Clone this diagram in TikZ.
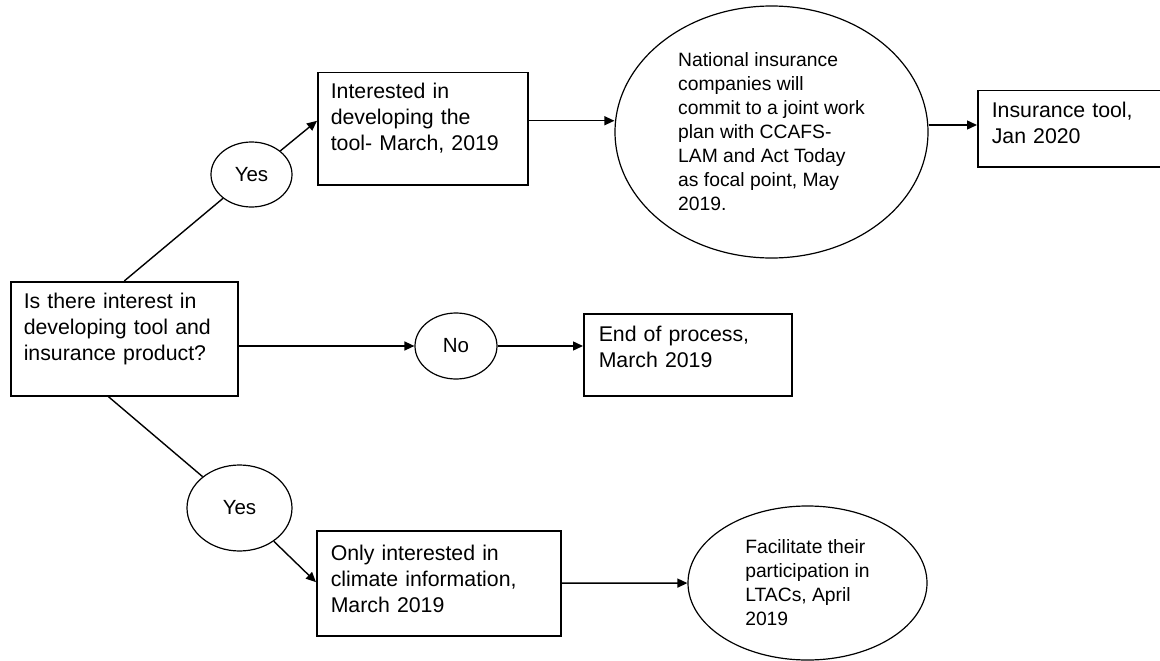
\documentclass[tikz,border=0pt]{standalone}
\usepackage{fontspec}
\setmainfont{Liberation Sans}
\usepackage{tikz}
\usetikzlibrary{arrows.meta,shapes,calc}

\begin{document}
\begin{tikzpicture}[x=1pt,y=-1pt,
box/.style={draw,line width=1.5pt,anchor=north west,align=left,inner ysep=0pt,font=\fontsize{21.3}{26}\selectfont},
oval/.style={draw,ellipse,line width=1.2pt,inner sep=0pt,align=left},
arr/.style={line width=1.4pt,-{Triangle[length=10pt,width=9pt]}},
ln/.style={line width=1.4pt}]
\useasboundingbox(0,0)rectangle(1160,661);
\node[box,inner xsep=13pt,text width=201pt,text height=27pt,text depth=87pt](q)at(10,281){Is there interest in\\developing tool and\\insurance product?};
\node[box,inner xsep=13pt,text width=184pt,text height=26pt,text depth=86pt](int)at(317,72){Interested in\\developing the\\tool- March, 2019};
\node[box,inner xsep=15pt,text width=178pt,text height=28pt,text depth=54pt](endbox)at(583,313){End of process,\\March 2019};
\node[box,inner xsep=14pt,text width=182pt,text height=27pt,text depth=49pt](ins)at(977,90){Insurance tool,\\Jan 2020};
\node[box,inner xsep=14pt,text width=216pt,text height=30pt,text depth=75pt](only)at(316,530){Only interested in\\climate information,\\March 2019};
\node[oval,minimum width=81pt,minimum height=65pt,font=\fontsize{20.5}{24}\selectfont](yes1)at(251.5,174.5){Yes};
\node[oval,minimum width=82pt,minimum height=66pt,font=\fontsize{20.5}{24}\selectfont](no)at(456,346){No};
\node[oval,minimum width=105pt,minimum height=86pt,font=\fontsize{20.5}{24}\selectfont](yes2)at(239.5,508){Yes};
\node[oval,minimum width=313pt,minimum height=252pt,font=\fontsize{19.3}{24}\selectfont](nat)at(771.5,132){National insurance\\companies will\\commit to a joint work\\plan with CCAFS-\\LAM and Act Today\\as focal point, May\\2019.};
\node[oval,minimum width=239pt,minimum height=154pt,font=\fontsize{19.3}{24}\selectfont](fac)at(807.5,583){Facilitate their\\participation in\\LTACs, April\\2019};
\coordinate(intin)at($(int.north west)!0.43!(int.south west)$);
\coordinate(qs)at($(q.south west)!0.43!(q.south east)$);
\coordinate(onlyin)at($(only.north west)!0.49!(only.south west)$);
\coordinate(intout)at([yshift=8pt]int.east);
\coordinate(natout)at([yshift=7pt]nat.east);
\draw[ln](q.north)--(yes1);
\draw[arr](yes1)--(intin);
\draw[arr](intout)--(intout-|nat.west);
\draw[arr](natout)--(natout-|ins.west);
\draw[arr](q.east|-no)--(no);
\draw[arr](no)--(no-|endbox.west);
\draw[ln](qs)--(yes2);
\draw[arr](yes2)--(onlyin);
\draw[arr](only)--(fac);
\end{tikzpicture}
\end{document}
